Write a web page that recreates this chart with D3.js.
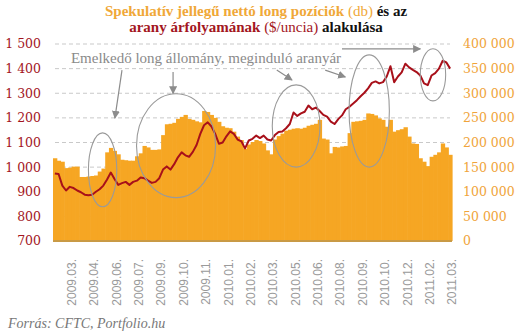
<!DOCTYPE html>
<html><head><meta charset="utf-8">
<script src="https://cdn.jsdelivr.net/npm/d3@7"></script>
<style>body{margin:0;background:#fff}svg{display:block}</style>
</head><body><svg id="c" width="528" height="336"></svg>
<script>
// Weekly data, 2009.03 – 2011.03
const longPositions = [168,163,161,148,149,151,151,130,130,131,132,133,141,147,180,189,183,176,165,164,163,163,172,178,193,190,185,185,186,215,237,238,240,248,252,256,248,246,243,241,264,262,256,250,242,233,230,229,222,212,205,187,196,201,205,203,198,184,176,206,213,218,224,226,228,229,228,230,234,236,238,246,208,206,178,191,190,192,193,219,242,243,244,246,259,258,255,249,246,232,246,222,225,227,231,212,198,197,168,161,152,171,175,180,198,190,175].map(v => v * 1000);
const goldPrice = [974,972,925,905,920,915,905,898,888,886,888,900,910,925,950,978,952,928,935,940,928,940,945,958,955,945,936,940,955,990,1003,990,1012,1040,1060,1048,1042,1062,1090,1135,1170,1182,1165,1135,1095,1100,1125,1145,1135,1112,1105,1076,1108,1115,1128,1118,1128,1112,1108,1130,1143,1145,1158,1175,1222,1208,1218,1225,1250,1235,1242,1228,1212,1205,1185,1175,1195,1210,1235,1245,1258,1272,1288,1302,1320,1342,1348,1340,1345,1368,1410,1345,1368,1385,1420,1405,1395,1386,1372,1340,1333,1372,1382,1400,1432,1425,1400];
const tickLabels = ["2009.03.","2009.04.","2009.06.","2009.07.","2009.09.","2009.10.","2009.11.","2010.01.","2010.02.","2010.03.","2010.05.","2010.06.","2010.08.","2010.09.","2010.10.","2010.12.","2011.02.","2011.03."];
const leftTicks = [700,800,900,1000,1100,1200,1300,1400,1500];
const rightTicks = [0,50000,100000,150000,200000,250000,300000,350000,400000];
// annotations in data units (week index, gold price)
const ellipses = [
  {i:12.8, v:989, ri:3.8, rv:150},
  {i:32.5, v:1087, ri:10.6, rv:211},
  {i:64.7, v:1167, ri:6.4, rv:167},
  {i:84.3, v:1228, ri:5.4, rv:228},
  {i:101.4, v:1375, ri:3.4, rv:106}
];
const arrows = [
  {i1:18.0, v1:1394, i2:16.1, v2:1199},
  {i1:31.7, v1:1386, i2:31.7, v2:1299},
  {i1:59.5, v1:1394, i2:63.6, v2:1354},
  {i1:72.5, v1:1394, i2:77.9, v2:1366},
  {i1:77.0, v1:1480, i2:98.0, v2:1480}
];

const N = goldPrice.length;
const L = 53, R = 452, T = 44, B = 241;
const svg = d3.select("#c");
const x = d3.scaleLinear().domain([-0.5, N - 0.5]).range([L, R]);
const yL = d3.scaleLinear().domain([700, 1500]).range([B, T]);
const yR = d3.scaleLinear().domain([0, 400000]).range([B, T]);
const loc = d3.formatLocale({decimal:",", thousands:"\u2009", grouping:[3], currency:["",""]});
const fmt = v => loc.format(",d")(v).replace(/\u2009/g, " ");

// gridlines
svg.append("g").selectAll("line").data(leftTicks.slice(1)).join("line")
  .attr("x1", L + 2).attr("x2", R - 2)
  .attr("y1", d => yL(d)).attr("y2", d => yL(d))
  .attr("stroke", "#c9c9c9").attr("stroke-dasharray", "4,3").attr("stroke-width", 1);

// bars
svg.append("g").selectAll("rect").data(longPositions).join("rect")
  .attr("x", (d, i) => x(i - 0.5))
  .attr("width", (d, i) => x(i + 0.5) - x(i - 0.5) + 0.6)
  .attr("y", d => yR(d)).attr("height", d => B - yR(d))
  .attr("fill", "#F6A623");

// baseline
svg.append("line").attr("x1", L).attr("x2", R).attr("y1", B).attr("y2", B)
  .attr("stroke", "#C99A45").attr("stroke-width", 2);

// gold line
svg.append("path").datum(goldPrice)
  .attr("d", d3.line().x((d, i) => x(i)).y(d => yL(d)))
  .attr("fill", "none").attr("stroke", "#A8101A").attr("stroke-width", 2)
  .attr("stroke-linejoin", "round");

// ellipses
svg.append("g").selectAll("ellipse").data(ellipses).join("ellipse")
  .attr("cx", d => x(d.i)).attr("cy", d => yL(d.v))
  .attr("rx", d => x(d.i + d.ri) - x(d.i)).attr("ry", d => yL(d.v - d.rv) - yL(d.v))
  .attr("fill", "none").attr("stroke", "#9a9a9a").attr("stroke-width", 1.1);

// arrows
svg.append("defs").append("marker").attr("id", "ah")
  .attr("viewBox", "0 0 10 10").attr("refX", 9).attr("refY", 5)
  .attr("markerWidth", 8).attr("markerHeight", 8).attr("markerUnits", "userSpaceOnUse")
  .attr("orient", "auto")
  .append("path").attr("d", "M0,0L10,5L0,10Z").attr("fill", "#8c8c8c");
svg.append("g").selectAll("line").data(arrows).join("line")
  .attr("x1", d => x(d.i1)).attr("y1", d => yL(d.v1))
  .attr("x2", d => x(d.i2)).attr("y2", d => yL(d.v2))
  .attr("stroke", "#8c8c8c").attr("stroke-width", 1.2).attr("marker-end", "url(#ah)");

// annotation text
svg.append("text").attr("x", x(4.3)).attr("y", yL(1423))
  .attr("font-family", "Liberation Serif, serif").attr("font-size", 15)
  .attr("fill", "#8a8a8a").text("Emelkedő long állomány, meginduló aranyár");

// left axis labels
svg.append("g").selectAll("text").data(leftTicks).join("text")
  .attr("x", 41).attr("y", d => yL(d)).attr("dy", "0.35em")
  .attr("text-anchor", "end").attr("font-family", "DejaVu Serif, serif").attr("font-size", 12.5)
  .attr("fill", "#A3161E").text(d => fmt(d));

// right axis labels
svg.append("g").selectAll("text").data(rightTicks).join("text")
  .attr("x", 463).attr("y", d => yR(d)).attr("dy", "0.35em")
  .attr("text-anchor", "start").attr("font-family", "DejaVu Serif, serif").attr("font-size", 12.5)
  .attr("fill", "#F0A43A").text(d => fmt(d));

// x labels
svg.append("g").selectAll("text").data(tickLabels).join("text")
  .attr("transform", (d, k) => `translate(${x(4 + 6 * k) + 2},259) rotate(-90)`)
  .attr("dy", "0.35em").attr("text-anchor", "end")
  .attr("font-family", "Liberation Sans, Arial, sans-serif").attr("font-size", 12)
  .attr("fill", "#9a9a9a").text(d => d);

// title
const t1 = svg.append("text").attr("x", 256).attr("y", 16).attr("text-anchor", "middle")
  .attr("font-family", "Liberation Serif, serif").attr("font-size", 15);
t1.append("tspan").attr("font-weight", "bold").attr("fill", "#F0A838").text("Spekulatív jellegű nettó long pozíciók ");
t1.append("tspan").attr("fill", "#F0A838").text("(db) ");
t1.append("tspan").attr("font-weight", "bold").attr("fill", "#111").text("és az");
const t2 = svg.append("text").attr("x", 256).attr("y", 32).attr("text-anchor", "middle")
  .attr("font-family", "Liberation Serif, serif").attr("font-size", 15);
t2.append("tspan").attr("font-weight", "bold").attr("fill", "#A3161E").text("arany árfolyamának ");
t2.append("tspan").attr("fill", "#A3161E").text("($/uncia) ");
t2.append("tspan").attr("font-weight", "bold").attr("fill", "#111").text("alakulása");

// source
svg.append("text").attr("x", 8).attr("y", 328)
  .attr("font-family", "Liberation Serif, serif").attr("font-style", "italic").attr("font-size", 14)
  .attr("fill", "#777").text("Forrás: CFTC, Portfolio.hu");
</script></body></html>
